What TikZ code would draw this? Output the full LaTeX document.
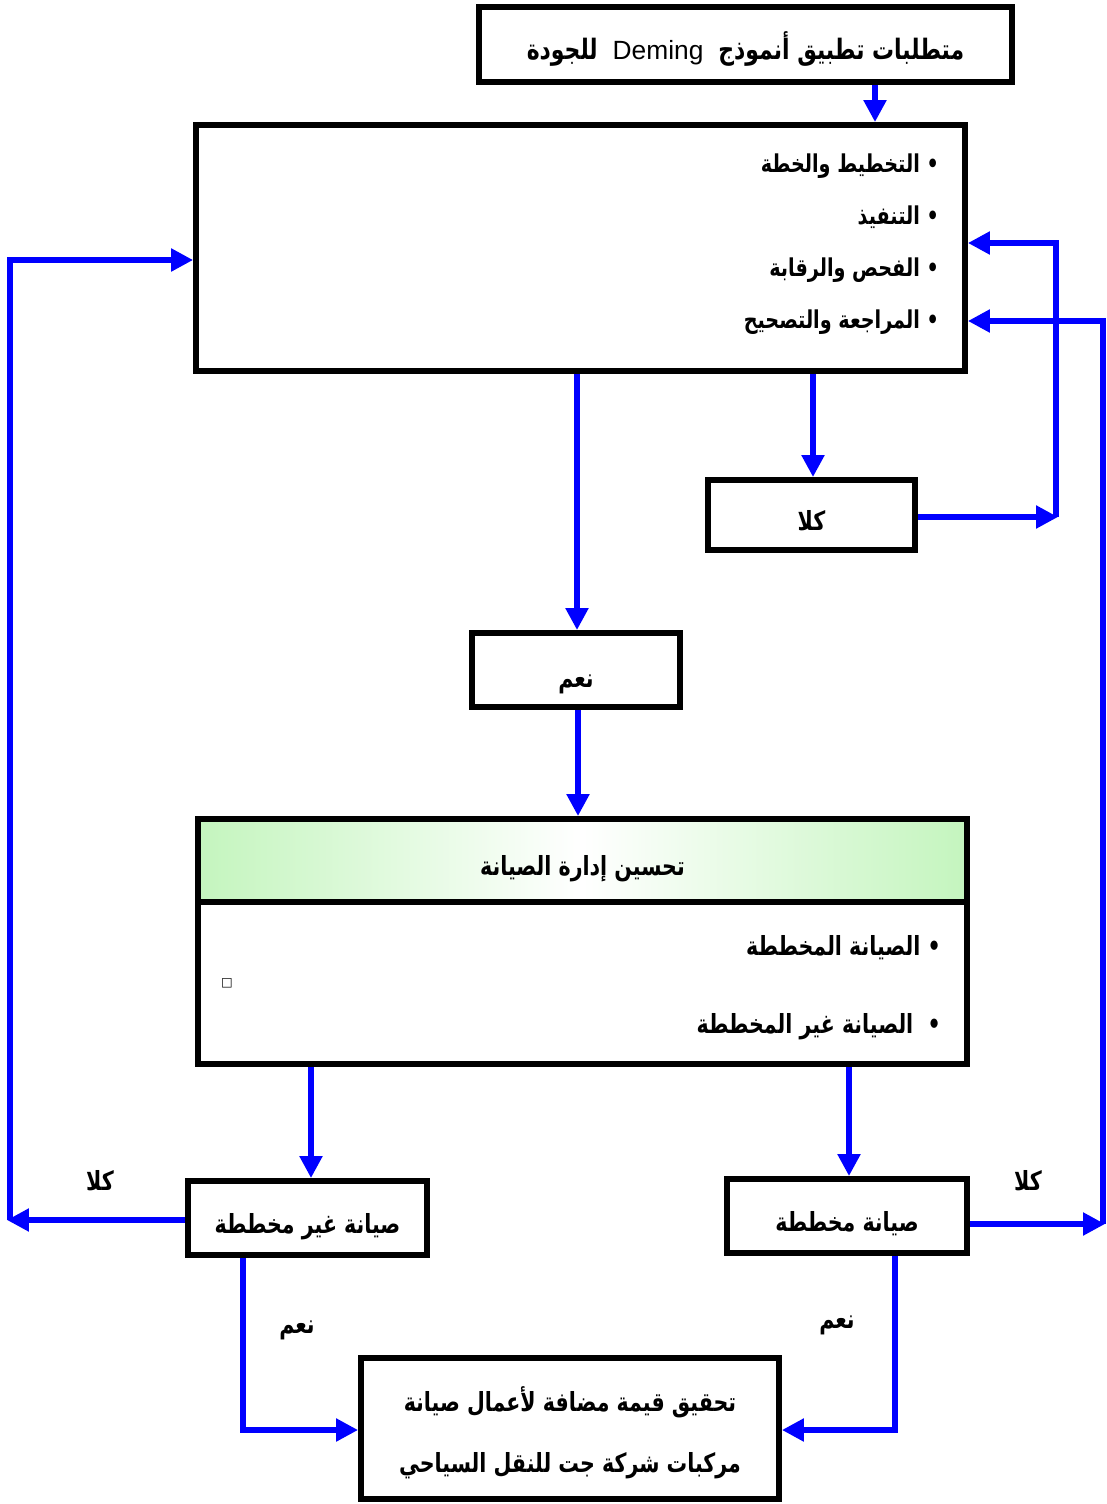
\documentclass[tikz,border=0pt]{standalone}
\usepackage{fontspec}
\setmainfont{Liberation Sans}
\newfontfamily\arabicfont[Script=Arabic,FakeStretch=0.78]{DejaVu Sans}
\newfontfamily\symfont{DejaVu Sans}
\TeXXeTstate=1
\usetikzlibrary{arrows.meta}
\definecolor{headgreen}{RGB}{196,245,190}
\newcommand{\artxt}[1]{{\arabicfont\bfseries\beginR #1\endR}}
\begin{document}
\begin{tikzpicture}[x=0.02cm,y=-0.02cm,
    box/.style={draw,line width=3.4pt,inner sep=0pt,text height=0.6cm,text depth=0pt,font=\fontsize{15}{18}\selectfont},
    arr/.style={draw=blue,line width=3pt,-{Triangle[length=0.44cm,width=0.44cm]}},
    lbl/.style={anchor=base,font=\fontsize{15}{18}\selectfont},
    bullet/.style={anchor=base east,font=\fontsize{14}{17}\selectfont}]
\useasboundingbox (0,0) rectangle (1106,1504);

% boxes
\node[box,minimum width=10.66cm,minimum height=1.5cm,font=\fontsize{16}{19}\selectfont] (title) at (745.5,44.5)
    {\artxt{متطلبات تطبيق أنموذج \beginL{\normalfont\fontsize{15}{18}\selectfont\ Deming\ }\endL{} للجودة}};
\node[box,minimum width=15.38cm,minimum height=4.92cm] (plan) at (580.5,248) {};
\node[box,minimum width=4.14cm,minimum height=1.4cm] (no1) at (811.5,515) {\artxt{كلا}};
\node[box,minimum width=4.16cm,minimum height=1.48cm,text height=0.68cm] (yes1) at (576,670) {\artxt{نعم}};
\node[box,minimum width=15.38cm,minimum height=1.66cm,left color=headgreen,right color=headgreen,middle color=white] (head) at (582.5,860.5)
    {\artxt{تحسين إدارة الصيانة}};
\node[box,minimum width=15.38cm,minimum height=3.24cm] (body) at (582.5,983) {};
\node[box,minimum width=4.78cm,minimum height=1.48cm] (unplanned) at (307.5,1218) {\artxt{صيانة غير مخططة}};
\node[box,minimum width=4.8cm,minimum height=1.48cm] (planned) at (847,1216) {\artxt{صيانة مخططة}};
\node[box,minimum width=8.36cm,minimum height=2.82cm] (goal) at (570,1428.5) {};
\node[lbl] (goal1) at (570,1411) {\artxt{تحقيق قيمة مضافة لأعمال صيانة}};
\node[lbl] (goal2) at (570,1472) {\artxt{مركبات  شركة جت للنقل السياحي}};

% list items
\node[bullet] (p1) at (945,173) {\artxt{•\ التخطيط والخطة}};
\node[bullet] (p2) at (945,224) {\artxt{•\ التنفيذ}};
\node[bullet] (p3) at (945,276) {\artxt{•\ الفحص والرقابة}};
\node[bullet] (p4) at (945,328) {\artxt{•\ المراجعة والتصحيح}};
\node[bullet,font=\fontsize{15}{18}\selectfont] (m1) at (947,955) {\artxt{•\ الصيانة المخططة}};
\node[bullet,font=\fontsize{15}{18}\selectfont] (m2) at (947,1033) {\artxt{•\ \ الصيانة غير المخططة}};
\node[font=\fontsize{7}{8}\selectfont] (sq) at (227,983) {\symfont □};

% labels
\node[lbl] (no2) at (100,1190) {\artxt{كلا}};
\node[lbl] (no3) at (1028,1190) {\artxt{كلا}};
\node[lbl] (yes2) at (297,1333) {\artxt{نعم}};
\node[lbl] (yes3) at (837,1328) {\artxt{نعم}};

% connectors
\draw[arr] (title.south -| 875,0) -- (plan.north -| 875,0);
\draw[arr] (plan.south -| 577,0) -- (yes1.north -| 577,0);
\draw[arr] (plan.south -| 813,0) -- (no1.north -| 813,0);
\draw[arr] (no1.east |- 0,517) -- (1058,517);
\draw[arr] (1056,517) |- (plan.east |- 0,243);
\draw[arr] (yes1.south -| 578,0) -- (head.north -| 578,0);
\draw[arr] (body.south -| 311,0) -- (unplanned.north -| 311,0);
\draw[arr] (body.south -| 849,0) -- (planned.north -| 849,0);
\draw[arr] (planned.east |- 0,1224) -- (1105,1224);
\draw[arr] (1103,1224) |- (plan.east |- 0,321);
\draw[arr] (unplanned.west |- 0,1220) -- (7,1220);
\draw[arr] (10,1220) |- (plan.west |- 0,260);
\draw[arr] (unplanned.south -| 243,0) |- (goal.west |- 0,1430);
\draw[arr] (planned.south -| 895,0) |- (goal.east |- 0,1430);
\end{tikzpicture}
\end{document}
